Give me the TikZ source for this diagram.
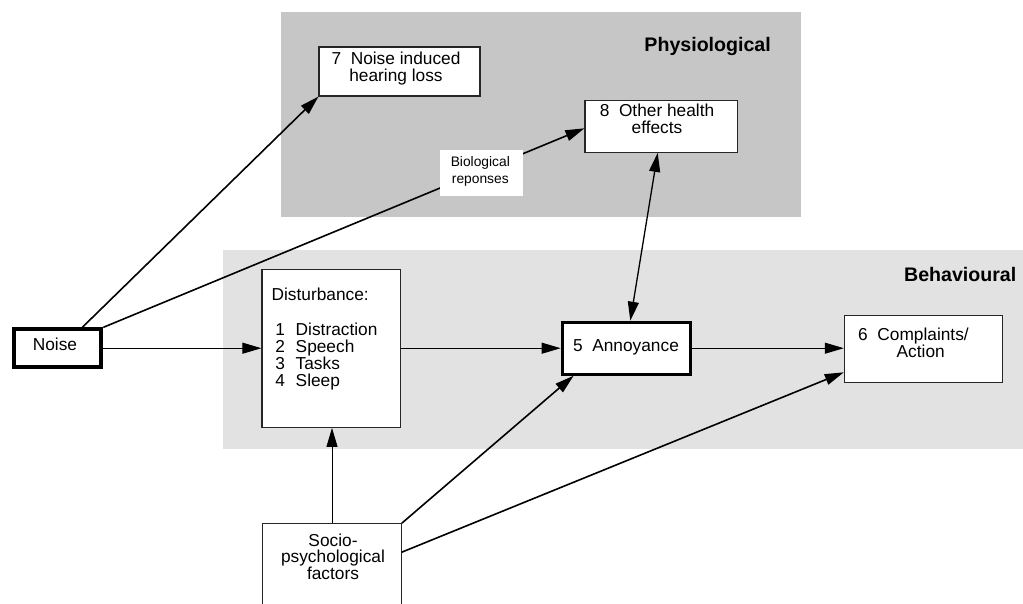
\documentclass[tikz,border=0pt]{standalone}
\usepackage{fontspec}
\setmainfont{Liberation Sans}
\usetikzlibrary{arrows.meta,calc}
\definecolor{physgray}{HTML}{C6C6C6}
\definecolor{behavgray}{HTML}{E2E2E2}
\newcommand\clines[1]{\vtop{\halign{\hfil##\hfil\cr#1\crcr}}}
\newcommand\leftlines[1]{\vtop{\halign{##\hfil\cr#1\crcr}}}
\begin{document}
\begin{tikzpicture}[x=1pt,y=-1pt,
  box/.style={draw=black!85, line width=1.1pt, fill=white, inner sep=0pt},
  thickbox/.style={draw=black, fill=white, inner sep=0pt},
  txt/.style={inner sep=0pt, anchor=base, font=\fontsize{17.3}{17}\selectfont},
  head/.style={inner sep=0pt, anchor=base east, font=\fontsize{19.6}{20}\selectfont\bfseries},
  tip/.style={-{Triangle[length=19pt,width=11pt]}},
  dtip/.style={{Triangle[length=19pt,width=11pt]}-{Triangle[length=19pt,width=11pt]}},
  diag/.style={tip, line width=1.6pt},
  flat/.style={tip, line width=1pt}
]
\useasboundingbox (0,0) rectangle (1023,603);
\clip (0,0) rectangle (1023,603);

% regions
\fill[physgray] (281,12) rectangle (801,216.5);
\fill[behavgray] (223,250) rectangle (1023,449);
\node[head] (physlab) at (771,51.7) {Physiological};
\node[head] (behavlab) at (1016.5,281.7) {Behavioural};

% boxes
\node[thickbox, line width=4pt, minimum width=87.6pt, minimum height=37.7pt] (noise) at (57.5,348.2) {};
\node[box, minimum width=138.7pt, minimum height=158.3pt] (dist) at (331.3,348.2) {};
\node[thickbox, line width=3pt, minimum width=128.3pt, minimum height=52pt] (ann) at (626.3,348.2) {};
\node[box, minimum width=157.7pt, minimum height=67.3pt] (comp) at (923.2,348.7) {};
\node[box, minimum width=161pt, minimum height=49pt] (n7) at (399.5,71.5) {};
\node[box, minimum width=152.7pt, minimum height=52.3pt] (n8) at (661.3,126.2) {};
\node[box, minimum width=138.6pt, minimum height=130pt] (socio) at (332,588.7) {};

% texts
\node[txt] (noiset) at (55,350.7) {Noise};
\node[txt] (annt) at (626,351) {5~~Annoyance};
\node[txt] (n7t) at (396,64.3) {\clines{7~~Noise induced\cr hearing loss}};
\node[txt] (n8t) at (657,116.7) {\clines{8~~Other health\cr effects}};
\node[txt, anchor=base west] (compt) at (858,340.7) {\leftlines{6~~Complaints/\cr\hspace*{38.5pt}Action}};
\node[txt, anchor=base west, font=\fontsize{17.3}{17.2}\selectfont] (distt) at (271.4,300.7)
  {\leftlines{Disturbance:\cr \cr
   \hspace*{3.8pt}1\hspace{10.7pt}Distraction\cr
   \hspace*{3.8pt}2\hspace{10.7pt}Speech\cr
   \hspace*{3.8pt}3\hspace{10.7pt}Tasks\cr
   \hspace*{3.8pt}4\hspace{10.7pt}Sleep}};
\node[txt, font=\fontsize{17.3}{16.5}\selectfont] (sociot) at (333,546) {\clines{Socio-\cr psychological\cr factors}};

% connectors
\draw[diag] ($(noise.north)+(24.8,0)$) -- (n7.south west);
\draw[diag] (noise.north east) -- ($(n8.west)+(0,2.1)$);
\node[fill=white, inner sep=0pt, minimum width=83.3pt, minimum height=45.7pt] (bio) at (481.7,172.8) {};
\node[txt, font=\fontsize{13.8}{16.6}\selectfont] (biot) at (480.3,166.7) {\clines{Biological\cr reponses}};
\draw[flat] (noise.east) -- (dist.west);
\draw[flat] (dist.east) -- (ann.west);
\draw[flat] (ann.east) -- (ann.east -| comp.west);
\draw[dtip, line width=1.3pt] ($(ann.north)+(4,0)$) -- ($(n8.south)+(-3.6,0)$);
\draw[tip, line width=1pt] (socio.north) -- (socio.north |- dist.south);
\draw[diag] (socio.north east) -- ($(ann.south west)+(13,0)$);
\draw[diag] ($(socio.north east)+(0,29)$) -- ($(comp.south west)+(0,-10.6)$);
\end{tikzpicture}
\end{document}
